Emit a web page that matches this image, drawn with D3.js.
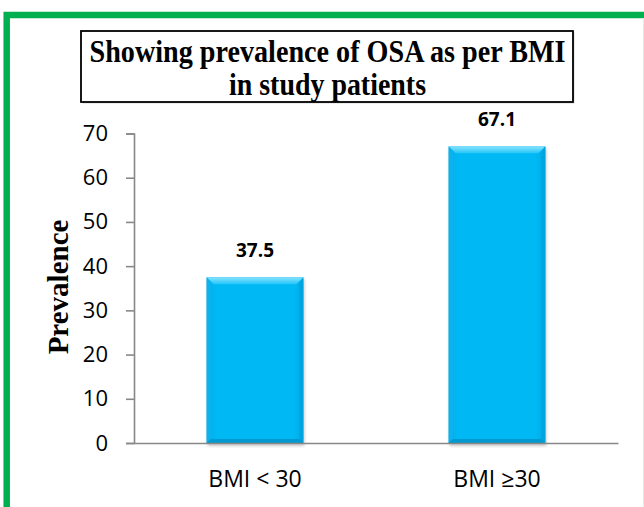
<!DOCTYPE html>
<html>
<head>
<meta charset="utf-8">
<script src="https://cdn.jsdelivr.net/npm/d3@7"></script>
<style>
  html, body { margin: 0; padding: 0; background: #fff; }
  svg { display: block; }
</style>
</head>
<body>
<svg id="chart" width="644" height="507"></svg>
<script>
// Prevalence of OSA by BMI group
const categories = ["BMI < 30", "BMI \u226530"];
const prevalence = [37.5, 67.1];
const yTicks = [0, 10, 20, 30, 40, 50, 60, 70];
const titleLines = ["Showing prevalence of OSA as per BMI", "in study patients"];
const yTitle = "Prevalence";

const svg = d3.select("#chart");
const W = 644, H = 507;
const plot = { left: 134, right: 618, top: 133.5, bottom: 443 };

// outer green frame (runs off the right and bottom edges)
svg.append("rect")
  .attr("x", 6.7).attr("y", 15)
  .attr("width", W + 20).attr("height", H + 20)
  .attr("fill", "none")
  .attr("stroke", "#00b050")
  .attr("stroke-width", 6.5);
svg.append("line")
  .attr("x1", 643.5).attr("x2", 643.5).attr("y1", 18).attr("y2", H)
  .attr("stroke", "#e4ece7").attr("stroke-width", 1);

const x = d3.scaleBand()
  .domain(categories)
  .range([plot.left, plot.right])
  .paddingInner(0.6)
  .paddingOuter(0.3);

const y = d3.scaleLinear()
  .domain([0, 70])
  .range([plot.bottom, plot.top]);

// gradients for bevelled bars
const defs = svg.append("defs");
const topGrad = defs.append("linearGradient").attr("id", "bevelTop")
  .attr("x1", 0).attr("y1", 0).attr("x2", 0).attr("y2", 1);
topGrad.append("stop").attr("offset", "0%").attr("stop-color", "#8ae3ff");
topGrad.append("stop").attr("offset", "100%").attr("stop-color", "#22c6f8");
const faceGrad = defs.append("linearGradient").attr("id", "face")
  .attr("x1", 0).attr("y1", 0).attr("x2", 1).attr("y2", 0);
faceGrad.append("stop").attr("offset", "0%").attr("stop-color", "#00b0ec");
faceGrad.append("stop").attr("offset", "10%").attr("stop-color", "#00b8f4");
faceGrad.append("stop").attr("offset", "90%").attr("stop-color", "#00b8f4");
faceGrad.append("stop").attr("offset", "100%").attr("stop-color", "#00abe6");
const blur = defs.append("filter").attr("id", "shadow")
  .attr("x", "-20%").attr("y", "-20%").attr("width", "140%").attr("height", "140%");
blur.append("feGaussianBlur").attr("stdDeviation", 1.6);

// y axis
const yAxis = svg.append("g")
  .attr("transform", `translate(${plot.left},0)`)
  .call(d3.axisLeft(y).tickValues(yTicks).tickSize(8).tickPadding(18).tickFormat(d3.format("d")));
yAxis.select(".domain").attr("stroke", "#888").attr("stroke-width", 1.6);
yAxis.selectAll(".tick line").attr("stroke", "#888").attr("stroke-width", 1.6);
yAxis.selectAll(".tick text")
  .attr("fill", "#000")
  .style("font-family", "'Open Sans', sans-serif")
  .style("font-size", "22px");

// bars
const bevel = 7;
const bars = svg.append("g").selectAll("g.bar")
  .data(categories.map((c, i) => ({ cat: c, val: prevalence[i] })))
  .join("g").attr("class", "bar");

bars.each(function(d) {
  const g = d3.select(this);
  const x0 = x(d.cat), x1 = x0 + x.bandwidth();
  const y0 = y(d.val), y1 = y(0);
  const b = bevel;
  const poly = pts => pts.map(p => p.join(",")).join(" ");
  g.append("rect")
    .attr("x", x0 + 1).attr("y", y0 + 2)
    .attr("width", x1 - x0).attr("height", y1 - y0 + 1)
    .attr("fill", "#9a9a9a").attr("opacity", 0.55)
    .attr("filter", "url(#shadow)");
  g.append("rect")
    .attr("x", x0).attr("y", y0)
    .attr("width", x1 - x0).attr("height", y1 - y0)
    .attr("fill", "url(#face)");
  g.append("polygon")
    .attr("points", poly([[x0, y0], [x1, y0], [x1 - b, y0 + b], [x0 + b, y0 + b]]))
    .attr("fill", "url(#bevelTop)");
  g.append("polygon")
    .attr("points", poly([[x0, y0], [x0 + b * 0.6, y0 + b], [x0 + b * 0.6, y1 - 4], [x0, y1]]))
    .attr("fill", "#12b0ea").attr("opacity", 0.7);
  g.append("polygon")
    .attr("points", poly([[x1, y0], [x1 - b * 0.6, y0 + b], [x1 - b * 0.6, y1 - 4], [x1, y1]]))
    .attr("fill", "#00a2dc").attr("opacity", 0.75);
  g.append("polygon")
    .attr("points", poly([[x0, y1], [x0 + b * 0.6, y1 - 4], [x1 - b * 0.6, y1 - 4], [x1, y1]]))
    .attr("fill", "#0099d0");
  g.append("text")
    .attr("x", (x0 + x1) / 2).attr("y", y0 - 20)
    .attr("text-anchor", "middle")
    .style("font-family", "'Open Sans', sans-serif")
    .style("font-weight", "700")
    .style("font-size", "19px")
    .attr("fill", "#000")
    .text(d3.format(".1f")(d.val));
});

// x axis
const xAxis = svg.append("g")
  .attr("transform", `translate(0,${plot.bottom})`)
  .call(d3.axisBottom(x).tickSize(0).tickPadding(26).tickSizeOuter(0));
xAxis.select(".domain").attr("stroke", "#888").attr("stroke-width", 1.6);
xAxis.selectAll(".tick text")
  .attr("fill", "#000")
  .attr("dy", 0)
  .attr("y", 44)
  .style("font-family", "'Open Sans', sans-serif")
  .style("font-size", "23px");

// y axis title
svg.append("text")
  .attr("transform", "translate(68,287) rotate(-90)")
  .attr("text-anchor", "middle")
  .style("font-family", "'Liberation Serif', 'Times New Roman', serif")
  .style("font-weight", "700")
  .style("font-size", "29px")
  .attr("fill", "#000")
  .text(yTitle);

// title box
const box = { x: 81, y: 31, w: 492, h: 71 };
svg.append("rect")
  .attr("x", box.x + 1.5).attr("y", box.y + 1.5)
  .attr("width", box.w).attr("height", box.h)
  .attr("fill", "#bbb").attr("opacity", 0.6);
svg.append("rect")
  .attr("x", box.x).attr("y", box.y)
  .attr("width", box.w).attr("height", box.h)
  .attr("fill", "#fff").attr("stroke", "#000").attr("stroke-width", 1.8);
const titleWidths = [476, 197];
titleLines.forEach((t, i) => {
  svg.append("text")
    .attr("x", box.x + box.w / 2 + 0.5).attr("y", 62 + i * 32.5)
    .attr("text-anchor", "middle")
    .attr("textLength", titleWidths[i])
    .attr("lengthAdjust", "spacingAndGlyphs")
    .style("font-family", "'Liberation Serif', 'Times New Roman', serif")
    .style("font-weight", "700")
    .style("font-size", "31px")
    .attr("fill", "#000")
    .text(t);
});
</script>
</body>
</html>
